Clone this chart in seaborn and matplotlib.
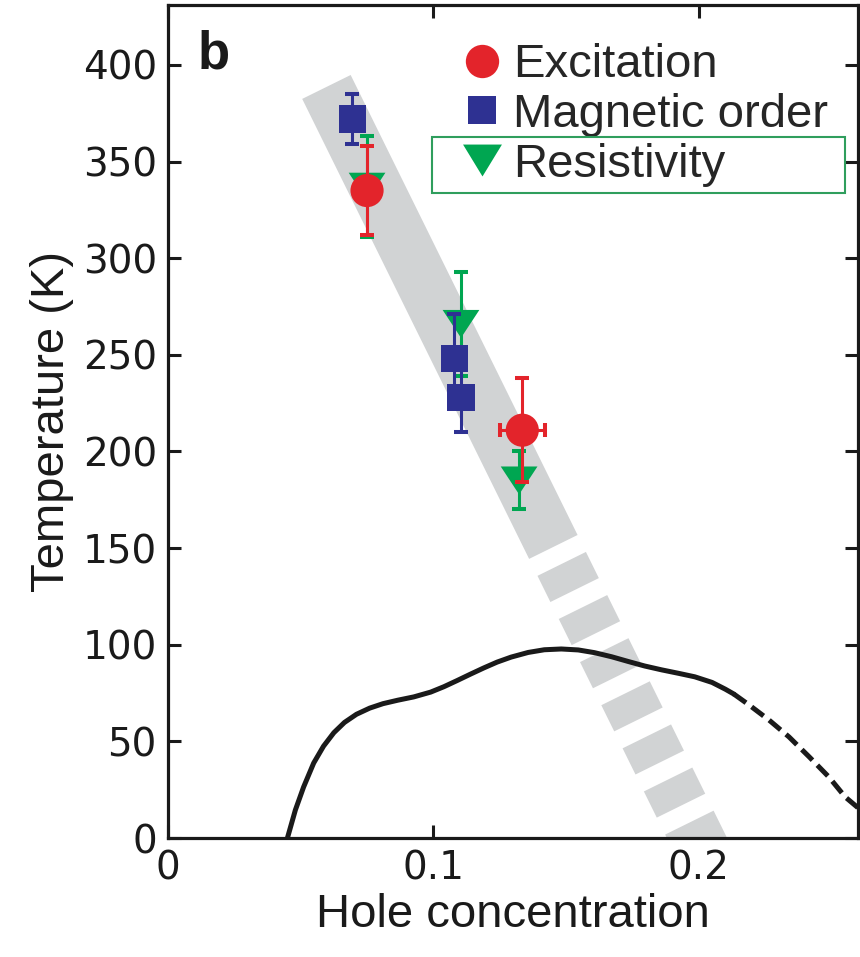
import numpy as np
import pandas as pd
import seaborn as sns
import matplotlib.pyplot as plt
from matplotlib.lines import Line2D
from matplotlib.patches import Rectangle

# --- data ---
exc_x = [0.075, 0.1335]
exc_t = [335, 211]
exc_err = [23, 27]
exc_xerr = [0.0, 0.0085]

mag_x = [0.0695, 0.1078, 0.1104]
mag_t = [372, 248, 228]
mag_err = [13, 23, 18]

res_x = [0.075, 0.1104, 0.1323]
res_t = [337, 266, 185]
res_err = [26, 27, 15]

# Tc dome (solid part, then dashed extrapolation)
dome_x = [0.0450, 0.0480, 0.0511, 0.0549, 0.0586, 0.0625, 0.0665, 0.0710, 0.0760,
          0.0810, 0.0866, 0.0926, 0.0990, 0.1040, 0.1090, 0.1140, 0.1190, 0.1240,
          0.1293, 0.1357, 0.1418, 0.1482, 0.1546, 0.1607, 0.1671, 0.1735, 0.1796,
          0.1860, 0.1924, 0.1985, 0.2050, 0.2100, 0.2132]
dome_t = [0.0, 14.5, 26.4, 38.8, 47.5, 54.5, 59.8, 64.0, 67.2,
          69.5, 71.3, 73.0, 75.5, 78.3, 81.5, 84.8, 88.0, 91.0,
          93.6, 96.0, 97.4, 97.8, 97.3, 95.9, 93.8, 91.3, 89.0,
          87.0, 85.2, 83.4, 80.5, 77.0, 74.5]
dash_x = [0.2132, 0.2190, 0.2265, 0.2340, 0.2416, 0.2490, 0.2552, 0.2597, 0.2625]
dash_t = [74.5, 68.8, 61.0, 52.3, 42.0, 31.6, 21.2, 16.0, 12.0]

# grey guide band (solid, then dashed)
band_x = [0.0597, 0.1452]
band_t = [388.6, 150.6]
band_dash_x = [0.1452, 0.2101]
band_dash_t = [150.6, -30.0]

labels = ['Excitation', 'Magnetic order', 'Resistivity']

RED = "#e3242b"
BLUE = "#2e3192"
GREEN = "#00a651"
GREY = "#d1d3d4"
INK = "#1a1a1a"

sns.set_style("ticks")
plt.rcParams['font.family'] = ['Liberation Sans', 'DejaVu Sans']

fig = plt.figure(figsize=(8.6, 9.57), dpi=100)
ax = fig.add_axes([168 / 860, 119 / 957, 690 / 860, 833 / 957])

# band
ax.plot(band_x, band_t, color=GREY, lw=38.9, solid_capstyle='butt', zorder=1)
ax.plot(band_dash_x, band_dash_t, color=GREY, lw=38.9, dash_capstyle='butt',
        linestyle=(0.54, (0.54, 0.35)), zorder=1)

# dome
dome = pd.DataFrame({'x': dome_x, 't': dome_t})
dashed = pd.DataFrame({'x': dash_x, 't': dash_t})
sns.lineplot(data=dome, x='x', y='t', color=INK, lw=3.6, ax=ax, zorder=2)
sns.lineplot(data=dashed, x='x', y='t', color=INK, lw=3.6, ax=ax, zorder=2,
             linestyle=(0, (3.0, 1.4)), sort=False)

tri = [(-1, 0.76), (1, 0.76), (0, -0.76)]
tri_leg = [(-1, 0.82), (1, 0.82), (0, -0.82)]
ekw = dict(fmt='none', elinewidth=2.2, capsize=5, capthick=2.9)

# resistivity
ax.errorbar(res_x, res_t, yerr=res_err, ecolor=GREEN, zorder=3, **ekw)
sns.scatterplot(x=res_x, y=res_t, marker=tri, s=700, color=GREEN, edgecolor='none',
                ax=ax, zorder=4)
# magnetic order
ax.errorbar(mag_x, mag_t, yerr=mag_err, ecolor=BLUE, zorder=5, **ekw)
sns.scatterplot(x=mag_x, y=mag_t, marker='s', s=380, color=BLUE, edgecolor='none',
                ax=ax, zorder=6)
# excitation
ax.errorbar(exc_x, exc_t, yerr=exc_err, xerr=exc_xerr, ecolor=RED, zorder=7, **ekw)
sns.scatterplot(x=exc_x, y=exc_t, marker='o', s=570, color=RED, edgecolor='none',
                ax=ax, zorder=8)

ax.set_xlim(0, 0.26)
ax.set_ylim(0, 431)
ax.set_xticks([0, 0.1, 0.2])
ax.set_xticklabels(['0', '0.1', '0.2'])
ax.set_yticks(np.arange(0, 401, 50))
ax.tick_params(direction='in', length=9.5, width=2.2, top=True, right=True,
               labelsize=28, labelfontfamily='DejaVu Sans', pad=8, colors=INK)
for s in ax.spines.values():
    s.set_linewidth(2.3)
    s.set_color(INK)

ax.set_xlabel('Hole concentration', fontsize=34, labelpad=4, color=INK)
ax.set_ylabel('Temperature (K)', fontsize=34, labelpad=6, color=INK)

ax.text(0.0435, 0.924, 'b', transform=ax.transAxes, fontsize=38, fontweight='bold',
        va='baseline', ha='left', color=INK)

handles = [
    Line2D([], [], ls='none', marker='o', markersize=24, color=RED, markeredgewidth=0),
    Line2D([], [], ls='none', marker='s', markersize=19.5, color=BLUE, markeredgewidth=0),
    Line2D([], [], ls='none', marker=tri_leg, markersize=28, color=GREEN, markeredgewidth=0),
]
ax.legend(handles, labels, loc='upper left', bbox_to_anchor=(0.4275, 0.954),
          frameon=False, fontsize=34, borderpad=0, borderaxespad=0, handlelength=0.8,
          handletextpad=0.26, labelspacing=0.12)

# thin green box round the last legend entry
ax.add_patch(Rectangle((0.3826, 0.7743), 0.5984, 0.0672, transform=ax.transAxes,
                       fill=False, edgecolor='#2f9e5d', lw=1.5, clip_on=False, zorder=10))

fig.savefig('out.png', dpi=100)
